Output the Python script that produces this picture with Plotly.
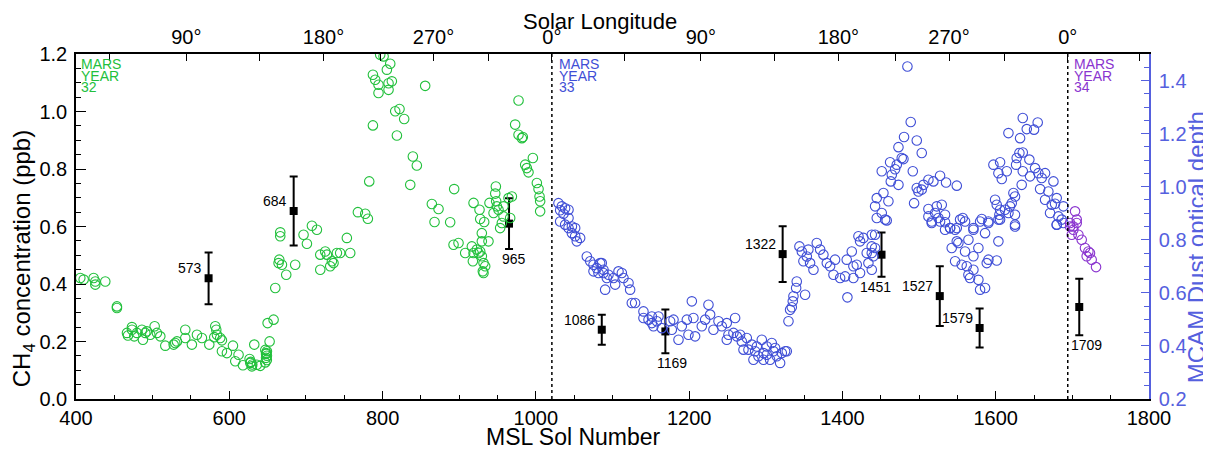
import plotly.graph_objects as go

# ---------------- data ----------------
# MCAM dust optical depth, Mars Year 32 (green)
my32_sol = [405.6, 410, 423, 425.2, 425.2, 438.2, 453.4, 453.4, 466.5, 467.8, 473, 473, 476, 479.5,
            486, 487.3, 490.4, 492.5, 496.9, 502.6, 505.6, 510, 516.5, 527.4, 529.5, 531.7, 542.6,
            542.6, 551.2, 557.8, 564.3, 573.9, 581.7, 583, 583.9, 580.4, 588.2, 590.4, 590.4, 596.9,
            604.8, 607.8, 612.1, 617.8, 626.5, 627.4, 629.5, 628, 630, 632.6, 636, 640.4, 646.9, 647,
            648, 648, 649, 648.2, 649.1, 649.1, 652.6, 650, 657.8, 660, 664.3, 665.2, 666.5, 666.5,
            668.7, 674.3, 686, 696.9, 701.3, 707.8, 714.3, 718.7, 718.7, 725.2, 727.4, 731.7, 733.9,
            736, 740.4, 744.7, 753.4, 757.8, 767.8, 777.4, 780.8, 782.6, 787.4, 787.4, 790.4, 794.7,
            794.7, 796.9, 801.3, 805.6, 807.8, 807.8, 810, 812.1, 816.5, 818.7, 822.1, 828.2, 836.1,
            839.5, 844.7, 855.6, 864.3, 867.8, 873, 888.2, 892.6, 893.4, 899.1, 907.8, 916.5, 917.8,
            918.7, 918.7, 923, 925.2, 926.5, 927.4, 927.4, 929.5, 929.5, 929.5, 930.8, 931.7, 931.7,
            932.6, 933.9, 938.2, 939.5, 944.8, 947, 947.8, 948.2, 949.1, 951.3, 953.4, 955.6, 957.8,
            957.8, 964.3, 966.5, 968.7, 973, 977.4, 977.4, 981.7, 983, 986.1, 988.2, 990.4, 996.1,
            1001.3, 1003.5, 1004.8, 1005.6, 1005.6]
my32_tau = [0.656, 0.650, 0.656, 0.643, 0.631, 0.643, 0.549, 0.543, 0.449, 0.439, 0.471, 0.461, 0.436,
            0.449, 0.461, 0.423, 0.449, 0.455, 0.442, 0.474, 0.449, 0.436, 0.401, 0.405, 0.411, 0.417,
            0.461, 0.430, 0.405, 0.442, 0.430, 0.405, 0.474, 0.461, 0.442, 0.433, 0.430, 0.421, 0.380,
            0.373, 0.401, 0.342, 0.367, 0.327, 0.351, 0.336, 0.323, 0.340, 0.330, 0.405, 0.329, 0.325,
            0.338, 0.385, 0.370, 0.355, 0.347, 0.373, 0.380, 0.363, 0.417, 0.486, 0.499, 0.618, 0.712,
            0.725, 0.828, 0.813, 0.706, 0.668, 0.706, 0.819, 0.785, 0.853, 0.838, 0.744, 0.687, 0.756,
            0.744, 0.700, 0.719, 0.712, 0.750, 0.750, 0.807, 0.750, 0.904, 0.898, 0.879, 1.020, 1.422,
            1.231, 1.403, 1.384, 1.353, 1.497, 1.491, 1.441, 1.390, 1.365, 1.463, 1.397, 1.284, 1.193,
            1.293, 1.255, 1.007, 1.114, 1.080, 1.380, 0.935, 0.867, 0.916, 0.866, 0.781, 0.991, 0.788,
            0.750, 0.775, 0.719, 0.750, 0.939, 0.763, 0.750, 0.913, 0.878, 0.756, 0.794, 0.825, 0.738,
            0.681, 0.712, 0.675, 0.867, 0.700, 0.794, 0.939, 0.901, 0.974, 1.001, 0.945, 0.926, 0.913,
            0.844, 0.863, 0.926, 0.888, 0.957, 0.882, 0.963, 1.234, 1.325, 1.196, 1.183, 1.187, 1.083,
            1.070, 1.054, 1.108, 1.014, 0.991, 0.963, 0.945, 0.907]

# Mars Year 33 (blue)
my33_sol = [1029.5, 1031.7, 1031.7, 1033.9, 1036.1, 1038.2, 1038.2, 1042.6, 1042.6, 1042.6, 1047, 1047,
            1051.3, 1051.3, 1053.4, 1057.8, 1066.5, 1070.9, 1075.2, 1075.2, 1079.5, 1081.7, 1083.9,
            1086, 1088.2, 1088.2, 1090.4, 1092.6, 1094.8, 1101.3, 1103.5, 1107.8, 1112.2, 1114.3,
            1120.9, 1123, 1125.2, 1129.5, 1140.4, 1140.4, 1147, 1151.3, 1151.3, 1153.5, 1157.8, 1160,
            1164.3, 1175.2, 1177.4, 1179.6, 1186.1, 1190.4, 1197, 1199.1, 1203.5, 1205.6, 1207.8,
            1216.5, 1220.9, 1225.2, 1227.4, 1231.7, 1238.3, 1242.6, 1249.1, 1249.1, 1251.3, 1257.8,
            1260, 1262.2, 1266.5, 1268.7, 1270.9, 1275.2, 1277.4, 1281.7, 1283.9, 1286.1, 1288.3,
            1290.4, 1294.8, 1297, 1297, 1301.3, 1301.3, 1305.6, 1307.8, 1310, 1312.2, 1314.3, 1318.7,
            1320.9, 1325.2, 1327.4, 1329.6, 1331.7, 1333.9, 1335.2, 1336.1, 1339.6, 1340.4, 1343.9,
            1347, 1349.1, 1351.3, 1353.5, 1355.6, 1357.8, 1362.2, 1366.5, 1370.9, 1375.2, 1379.6,
            1383.9, 1388.3, 1390.4, 1397, 1403.5, 1405.6, 1406.5, 1412.2, 1414.3, 1414.3, 1418.7,
            1420.9, 1423, 1423, 1427.4, 1431.7, 1433.9, 1438.2, 1438.3, 1438.3, 1438.3, 1440.4,
            1442.6, 1442.6, 1442.6, 1444.8, 1444.8, 1451.3, 1451.3, 1453.5, 1455.7, 1457.8, 1460,
            1462.2, 1463.1, 1464.4, 1468.7, 1470.9, 1473.1, 1473.1, 1477.4, 1479.6, 1480.4, 1484.8,
            1489.1, 1491.8, 1493.5, 1497, 1497, 1499.1, 1503.5, 1503.5, 1505.7, 1512.2, 1512.2,
            1512.2, 1516.5, 1516.5, 1518.7, 1520.9, 1523.1, 1525.2, 1527.4, 1527.4, 1529.6, 1533.9,
            1533.9, 1533.9, 1535.2, 1540.5, 1540.5, 1542.6, 1547, 1547, 1549.2, 1549.2, 1549.2,
            1551.3, 1553.5, 1555.6, 1557, 1560, 1560, 1562.2, 1564.4, 1564.4, 1566.5, 1570.9, 1570.9,
            1570.9, 1570.9, 1577.4, 1577.4, 1579.6, 1579.6, 1581.8, 1586.1, 1586.1, 1588.3, 1590.5,
            1590.5, 1590.5, 1597, 1599.2, 1601.3, 1601.3, 1603.5, 1603.5, 1603.5, 1604.8, 1605.7,
            1605.7, 1605.7, 1607.9, 1612.2, 1614.4, 1616.6, 1616.6, 1618.7, 1620.9, 1623.1, 1625.2,
            1625.2, 1625.2, 1625.2, 1626.6, 1627.4, 1630.9, 1631.8, 1633.9, 1635.3, 1635.3, 1635.3,
            1640.5, 1643.9, 1644.8, 1650, 1651.3, 1654.8, 1655.7, 1657.9, 1660, 1664.4, 1664.4,
            1668.7, 1670.9, 1673.1, 1675.3, 1677.4, 1679.6, 1679.6, 1679.6, 1681.8, 1686.1, 1688.3,
            1688.3]
my33_tau = [0.938, 0.911, 0.869, 0.926, 0.898, 0.919, 0.857, 0.913, 0.882, 0.844, 0.850, 0.825, 0.844,
            0.813, 0.794, 0.807, 0.737, 0.719, 0.706, 0.681, 0.693, 0.675, 0.712, 0.712, 0.675, 0.687,
            0.612, 0.656, 0.668, 0.656, 0.631, 0.681, 0.675, 0.656, 0.637, 0.612, 0.562, 0.562, 0.530,
            0.505, 0.499, 0.511, 0.486, 0.474, 0.493, 0.511, 0.467, 0.493, 0.461, 0.499, 0.423, 0.474,
            0.499, 0.442, 0.568, 0.505, 0.436, 0.474, 0.499, 0.555, 0.518, 0.461, 0.493, 0.474, 0.486,
            0.423, 0.442, 0.449, 0.505, 0.436, 0.442, 0.417, 0.386, 0.430, 0.386, 0.405, 0.348, 0.380,
            0.398, 0.361, 0.423, 0.373, 0.348, 0.398, 0.367, 0.348, 0.411, 0.380, 0.392, 0.361, 0.336,
            0.373, 0.380, 0.380, 0.493, 0.536, 0.546, 0.568, 0.587, 0.618, 0.643, 0.775, 0.756, 0.719,
            0.593, 0.737, 0.763, 0.712, 0.687, 0.788, 0.763, 0.744, 0.712, 0.700, 0.668, 0.725, 0.656,
            0.662, 0.725, 0.583, 0.756, 0.700, 0.656, 0.706, 0.813, 0.794, 0.675, 0.807, 0.750, 0.712,
            0.775, 0.819, 0.750, 0.687, 0.738, 0.926, 0.769, 0.819, 0.957, 0.882, 1.058, 0.901, 0.976,
            0.876, 0.873, 0.945, 1.092, 1.020, 1.045, 1.066, 1.083, 1.149, 1.007, 1.108, 1.104, 1.187,
            1.453, 1.244, 1.058, 0.938, 1.174, 0.995, 0.982, 1.127, 0.989, 1.007, 1.026, 0.916, 0.888,
            0.869, 0.863, 1.020, 0.901, 0.926, 0.882, 1.041, 0.869, 0.932, 0.894, 0.866, 0.838, 1.016,
            0.844, 0.844, 0.769, 0.838, 0.719, 1.004, 0.844, 0.794, 0.788, 0.876, 0.706, 0.882, 0.869,
            0.756, 0.700, 0.800, 0.668, 0.656, 0.844, 0.838, 0.738, 0.687, 0.769, 0.649, 0.869, 0.612,
            0.878, 0.825, 0.618, 0.712, 0.863, 0.869, 0.725, 1.083, 0.951, 0.932, 0.722, 1.051, 0.876,
            0.794, 0.894, 1.092, 0.913, 0.876, 1.029, 0.913, 1.058, 1.202, 0.901, 0.926, 0.938, 0.976,
            0.963, 0.894, 0.857, 0.850, 1.083, 1.108, 1.127, 1.183, 1.007, 1.259, 1.129, 1.058, 1.217,
            1.102, 1.039, 1.215, 1.070, 1.242, 1.051, 0.991, 1.033, 1.051, 0.951, 0.982, 0.901, 0.932,
            1.020, 0.936, 0.957, 0.857, 0.857, 0.888, 0.876, 0.926, 0.863]

# Mars Year 34 (purple)
my34_sol = [1697, 1697, 1699.2, 1701.3, 1701.3, 1703.5, 1705.7, 1705.7, 1707.9, 1712.2, 1716.5,
            1718.7, 1720.9, 1723, 1725.2, 1730.9]
my34_tau = [0.863, 0.850, 0.819, 0.850, 0.838, 0.907, 0.876, 0.863, 0.819, 0.800, 0.769, 0.738,
            0.756, 0.750, 0.725, 0.697]

# TLS methane measurements
ch4_sol = [573, 684, 965, 1086, 1169, 1322, 1451, 1527, 1579, 1709]
ch4_ppb = [0.42, 0.654, 0.61, 0.241, 0.235, 0.504, 0.502, 0.358, 0.247, 0.32]
ch4_err = [0.09, 0.12, 0.088, 0.052, 0.076, 0.097, 0.077, 0.104, 0.068, 0.098]

# Solar longitude ticks (top axis) at MSL sols
ls_tick_sols = [443.8, 543.9, 639.1, 723, 797, 866.5, 938.2, 1020.9, 1115.2, 1215.2, 1310.9,
                1394.7, 1468.7, 1539.1, 1611.3, 1694, 1787.4]
ls_tick_text = ["", "90°", "", "180°", "", "270°", "", "0°", "", "90°", "", "180°", "", "270°",
                "", "0°", ""]

# Start of Mars years (Ls = 0)
year_start_sols = [1020.9, 1694]
year_labels = ["32", "33", "34"]

# ---------------- layout / styling (positions, not data) ----------------
# label placement for each CH4 point: (side, x pixel shift)
label_place = {573: ("left", -5), 684: ("left", -5), 965: ("below", 5), 1086: ("left", -5),
               1169: ("below", 7), 1322: ("left", -5), 1451: ("below", -6), 1527: ("left", -5),
               1579: ("left", -5), 1709: ("below", 7)}
year_label_x = [404, 1027, 1699]

GREEN = "#22c03c"
BLUE = "#3f4ed6"
PURPLE = "#8a34cf"
AXBLUE = "#5560de"
FONT = "Liberation Sans, Arial, Helvetica, sans-serif"

fig = go.Figure()

for sols, taus, col in [(my32_sol, my32_tau, GREEN), (my33_sol, my33_tau, BLUE), (my34_sol, my34_tau, PURPLE)]:
    fig.add_trace(go.Scatter(
        x=sols, y=taus, yaxis="y2", mode="markers",
        marker=dict(symbol="circle-open", size=9.5, color=col, line=dict(width=1.1, color=col)),
        showlegend=False, cliponaxis=True, hoverinfo="x+y"))

fig.add_trace(go.Scatter(
    x=ch4_sol, y=ch4_ppb, mode="markers",
    marker=dict(symbol="square", size=8, color="black"),
    error_y=dict(type="data", array=ch4_err, color="black", thickness=2, width=4),
    showlegend=False))

# carrier trace so that the Solar Longitude axis is drawn
fig.add_trace(go.Scatter(x=ls_tick_sols, y=[None] * len(ls_tick_sols), xaxis="x2", yaxis="y",
                         mode="markers", showlegend=False, hoverinfo="skip"))

annotations = []
for s, v, e in zip(ch4_sol, ch4_ppb, ch4_err):
    side, dx = label_place[s]
    if side == "left":
        annotations.append(dict(x=s, y=v, xref="x", yref="y", text=str(s), showarrow=False,
                                xanchor="right", yanchor="middle", xshift=dx, yshift=10,
                                font=dict(size=14, color="black", family=FONT)))
    else:
        annotations.append(dict(x=s, y=v - e, xref="x", yref="y", text=str(s), showarrow=False,
                                xanchor="center", yanchor="middle", xshift=dx, yshift=-10,
                                font=dict(size=14, color="black", family=FONT)))

for num, s, col in zip(year_labels, year_label_x, [GREEN, BLUE, PURPLE]):
    for i, word in enumerate(["MARS", "YEAR", num]):
        annotations.append(dict(x=s, y=1, xref="x", yref="paper", text=word, showarrow=False,
                                xanchor="left", yanchor="middle", yshift=-10 - 11.7 * i,
                                font=dict(size=14, color=col, family=FONT)))

# Axis titles
annotations.append(dict(x=0.464, y=0, xref="paper", yref="paper", text="MSL Sol Number",
                        showarrow=False, yshift=-38, xanchor="center", yanchor="middle",
                        font=dict(size=23, color="black", family=FONT)))
annotations.append(dict(x=0.488, y=1, xref="paper", yref="paper", text="Solar Longitude",
                        showarrow=False, yshift=33, xanchor="center", yanchor="middle",
                        font=dict(size=22, color="black", family=FONT)))
annotations.append(dict(x=0, y=0.405, xref="paper", yref="paper", text="CH<sub>4</sub> concentration (ppb)",
                        showarrow=False, xshift=-53, textangle=-90, xanchor="center", yanchor="middle",
                        font=dict(size=24, color="black", family=FONT)))
annotations.append(dict(x=1, y=0.44, xref="paper", yref="paper", text="MCAM Dust optical depth",
                        showarrow=False, xshift=47, textangle=-90, xanchor="center", yanchor="middle",
                        font=dict(size=24, color=AXBLUE, family=FONT)))

shapes = [dict(type="line", x0=s, x1=s, xref="x", y0=0, y1=1, yref="paper",
               line=dict(color="black", width=1.5, dash="dot")) for s in year_start_sols]

# The page body has an 8 px margin, so the figure is 8 px smaller than the window
fig.update_layout(
    width=1203, height=442,
    margin=dict(l=68, r=62, t=46, b=51, autoexpand=False),
    paper_bgcolor="white", plot_bgcolor="white",
    font=dict(family=FONT, size=20, color="black"),
    showlegend=False,
    annotations=annotations,
    shapes=shapes,
    xaxis=dict(range=[400, 1800], dtick=200, tick0=400, ticks="inside", ticklen=8, tickwidth=1.2,
               tickcolor="black", showline=True, linecolor="black", linewidth=1.5, automargin=False,
               showgrid=False, zeroline=False, tickfont=dict(size=20),
               minor=dict(dtick=50, tick0=400, ticks="inside", ticklen=4, tickcolor="black", tickwidth=1)),
    xaxis2=dict(range=[400, 1800], overlaying="x", side="top", anchor="y", automargin=False,
                tickmode="array", tickvals=ls_tick_sols, ticktext=ls_tick_text,
                ticks="inside", ticklen=7, tickwidth=1.2, tickcolor="black",
                showline=True, linecolor="black", linewidth=1.5, showgrid=False, zeroline=False,
                tickfont=dict(size=20)),
    yaxis=dict(range=[0, 1.2], dtick=0.2, tick0=0, tickformat=".1f", ticks="inside", ticklen=10,
               tickwidth=1.2, tickcolor="black", showline=True, linecolor="black", linewidth=1.5,
               showgrid=False, zeroline=False, tickfont=dict(size=20), automargin=False,
               ticklabelstandoff=3,
               minor=dict(dtick=0.05, tick0=0, ticks="inside", ticklen=5, tickcolor="black", tickwidth=1)),
    yaxis2=dict(range=[0.2, 1.5], overlaying="y", side="right", anchor="x", automargin=False,
                tickmode="array", tickvals=[0.2, 0.4, 0.6, 0.8, 1.0, 1.2, 1.4], tickformat=".1f",
                ticks="inside", ticklen=8, tickwidth=1.2, tickcolor=AXBLUE, ticklabelstandoff=4,
                showline=True, linecolor=AXBLUE, linewidth=1.5, showgrid=False, zeroline=False,
                tickfont=dict(size=20, color=AXBLUE),
                minor=dict(dtick=0.05, tick0=0.2, ticks="inside", ticklen=5, tickcolor=AXBLUE, tickwidth=1)),
)

fig.write_html("out.html")
